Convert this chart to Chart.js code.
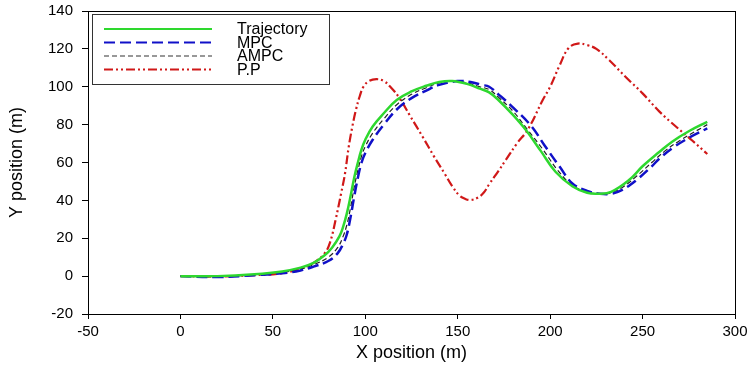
<!DOCTYPE html>
<html lang="en">
<head>
  <meta charset="UTF-8">
  <title>X-Y trajectory</title>
  <script src="https://cdn.jsdelivr.net/npm/chart.js"></script>
  <style>
    html, body { margin: 0; padding: 0; background: #fff; }
    #wrap { width: 754px; height: 368px; position: relative; }
  </style>
</head>
<body>
  <div id="wrap"><canvas id="grafico"></canvas></div>

  <script>
    // reference path
    const trajX = [0, 20, 40, 55, 65, 72, 78, 82, 86, 88, 90, 92, 94, 96, 98, 100, 104, 110, 117, 125, 133, 140, 147, 155, 162, 167, 172, 180, 187, 195, 203, 212, 220, 226, 233, 243, 250, 259, 266, 275, 285];
    const trajY = [0, 0, 1, 2.5, 4.5, 7, 11, 15, 21, 26, 33, 42, 52, 60, 67, 72, 79, 86, 93, 97.5, 100.5, 102.5, 103, 101.5, 99, 97, 93, 85, 77, 66, 55, 47.5, 44, 43.5, 44.5, 51, 58, 65.5, 71, 76.5, 81.5];

    // MPC
    const mpcX = [0, 20, 40, 55, 65, 72, 80, 85, 88, 90, 92, 94, 96, 98, 100, 104, 110, 117, 125, 133, 140, 150, 157, 163, 167, 172, 180, 190, 197, 205, 212, 220, 227, 233, 239, 247, 255, 259, 266, 275, 285];
    const mpcY = [0, -0.5, 0.5, 1.5, 3, 5, 8, 12, 17, 22, 31, 42, 52, 60, 65, 72, 80, 88, 94, 98, 101, 103, 102.5, 101, 100, 96, 89, 79, 69, 58, 49, 45, 43.5, 43.5, 45.5, 51, 58, 62, 67.5, 73, 78];

    // AMPC
    const ampcX = [0, 20, 40, 55, 65, 72, 80, 85, 88, 90, 92, 94, 96, 98, 100, 104, 110, 117, 125, 133, 140, 148, 155, 162, 167, 172, 180, 188, 196, 204, 212, 220, 227, 233, 240, 247, 255, 262, 270, 285];
    const ampcY = [0, -0.3, 0.8, 2, 3.8, 6, 10, 15, 21, 27, 36, 47, 56, 63.5, 68.5, 75.5, 83, 90.5, 96, 99.5, 102, 103, 102, 100, 98.5, 94.5, 87, 77, 67, 56, 48, 44.5, 43.3, 44, 47.5, 53, 60, 66, 71.5, 80];

    // P.P (pure pursuit)
    const ppX = [0, 20, 40, 55, 65, 72, 78, 81, 84, 87, 89, 91, 93, 95, 97, 99, 102, 106, 110, 114, 118.5, 124, 131, 137, 143, 147, 151, 154, 157, 161, 164, 167, 172, 176, 182, 188, 196, 200, 205, 210, 215, 220, 225, 232, 241, 250, 259, 268, 277, 285];
    const ppY = [0, -0.2, 0.5, 1.5, 4, 7, 12, 18, 30, 44, 54, 68, 79, 88, 95, 100, 103, 104, 103, 99.5, 94, 85, 73.6, 63.5, 54, 47.5, 42.5, 40.8, 40.2, 41.5, 44, 48.5, 55.5, 61.3, 70, 77.5, 93, 100, 111, 120.5, 122.8, 122, 120, 114, 105, 96.5, 87, 79, 71.5, 64.5];

    const xTicks = [-50, 0, 50, 100, 150, 200, 250, 300];
    const yTicks = [-20, 0, 20, 40, 60, 80, 100, 120, 140];

    function pts(xs, ys) {
      return xs.map((x, i) => ({ x: x, y: ys[i] }));
    }

    const series = [
      { label: "Trajectory", data: pts(trajX, trajY), borderColor: "#2ed82e", borderWidth: 2.5, borderDash: [] },
      { label: "MPC", data: pts(mpcX, mpcY), borderColor: "#1010c8", borderWidth: 2.5, borderDash: [11, 5] },
      { label: "AMPC", data: pts(ampcX, ampcY), borderColor: "#222", borderWidth: 1.2, borderDash: [5, 3] },
      { label: "P.P", data: pts(ppX, ppY), borderColor: "#d01818", borderWidth: 2.2, borderDash: [9, 3, 2, 3, 2, 3] }
    ];

    // legend box drawn inside the plot + frame around the plot
    const caixa = {
      id: "caixa",
      afterDraw(chart) {
        const ctx = chart.ctx;
        const a = chart.chartArea;
        ctx.save();
        ctx.strokeStyle = "#000";
        ctx.lineWidth = 1;
        ctx.strokeRect(a.left + 0.5, a.top + 0.5, a.right - a.left, a.bottom - a.top);

        const bx = a.left + 4, by = a.top + 3;
        ctx.strokeStyle = "#333";
        ctx.strokeRect(bx + 0.5, by + 0.5, 237, 70);

        const legCores = ["#2ed82e", "#1010c8", "#777", "#d01818"];
        ctx.font = "16px 'Liberation Sans', Arial, sans-serif";
        ctx.textBaseline = "middle";
        ctx.fillStyle = "#000";
        series.forEach((s, i) => {
          const y = by + 15 + i * 13.5;
          ctx.beginPath();
          ctx.setLineDash(s.borderDash);
          ctx.strokeStyle = legCores[i];
          ctx.lineWidth = i === 2 ? 1.5 : 2;
          ctx.moveTo(bx + 12, y);
          ctx.lineTo(bx + 120, y);
          ctx.stroke();
          ctx.setLineDash([]);
          ctx.fillText(s.label, bx + 145, y + 1);
        });
        ctx.restore();
      }
    };

    const ctx = document.getElementById("grafico").getContext("2d");
    new Chart(ctx, {
      type: "scatter",
      data: {
        datasets: series.map(s => ({
          label: s.label,
          data: s.data,
          showLine: true,
          borderColor: s.borderColor,
          borderWidth: s.borderWidth,
          borderDash: s.borderDash,
          pointRadius: 0,
          fill: false,
          tension: 0.4
        }))
      },
      options: {
        responsive: true,
        maintainAspectRatio: false,
        animation: false,
        layout: { padding: { top: 11, right: 19, left: 0, bottom: 0 } },
        plugins: {
          legend: { display: false },
          tooltip: { enabled: false }
        },
        scales: {
          x: {
            type: "linear",
            min: -50,
            max: 300,
            afterBuildTicks: s => { s.ticks = xTicks.map(v => ({ value: v })); },
            afterFit: s => { s.height = 54; s.paddingLeft = 0; s.paddingRight = 0; },
            ticks: { color: "#000", font: { family: "'Liberation Sans', Arial", size: 15 }, padding: 4 },
            grid: { drawOnChartArea: false, tickLength: 5, color: "#000" },
            border: { color: "#000" },
            title: { display: true, text: "X position (m)", color: "#000", font: { family: "'Liberation Sans', Arial", size: 18 }, padding: { top: 2, bottom: 4 } }
          },
          y: {
            type: "linear",
            min: -20,
            max: 140,
            afterBuildTicks: s => { s.ticks = yTicks.map(v => ({ value: v })); },
            afterFit: s => { s.width = 88; s.paddingTop = 0; s.paddingBottom = 0; },
            ticks: { color: "#000", font: { family: "'Liberation Sans', Arial", size: 15 }, padding: 9 },
            grid: { drawOnChartArea: false, tickLength: 6, color: "#000" },
            border: { color: "#000" },
            title: { display: true, text: "Y position (m)", color: "#000", font: { family: "'Liberation Sans', Arial", size: 18 }, padding: { top: 6, bottom: 4 } }
          }
        }
      },
      plugins: [caixa]
    });
  </script>
</body>
</html>
